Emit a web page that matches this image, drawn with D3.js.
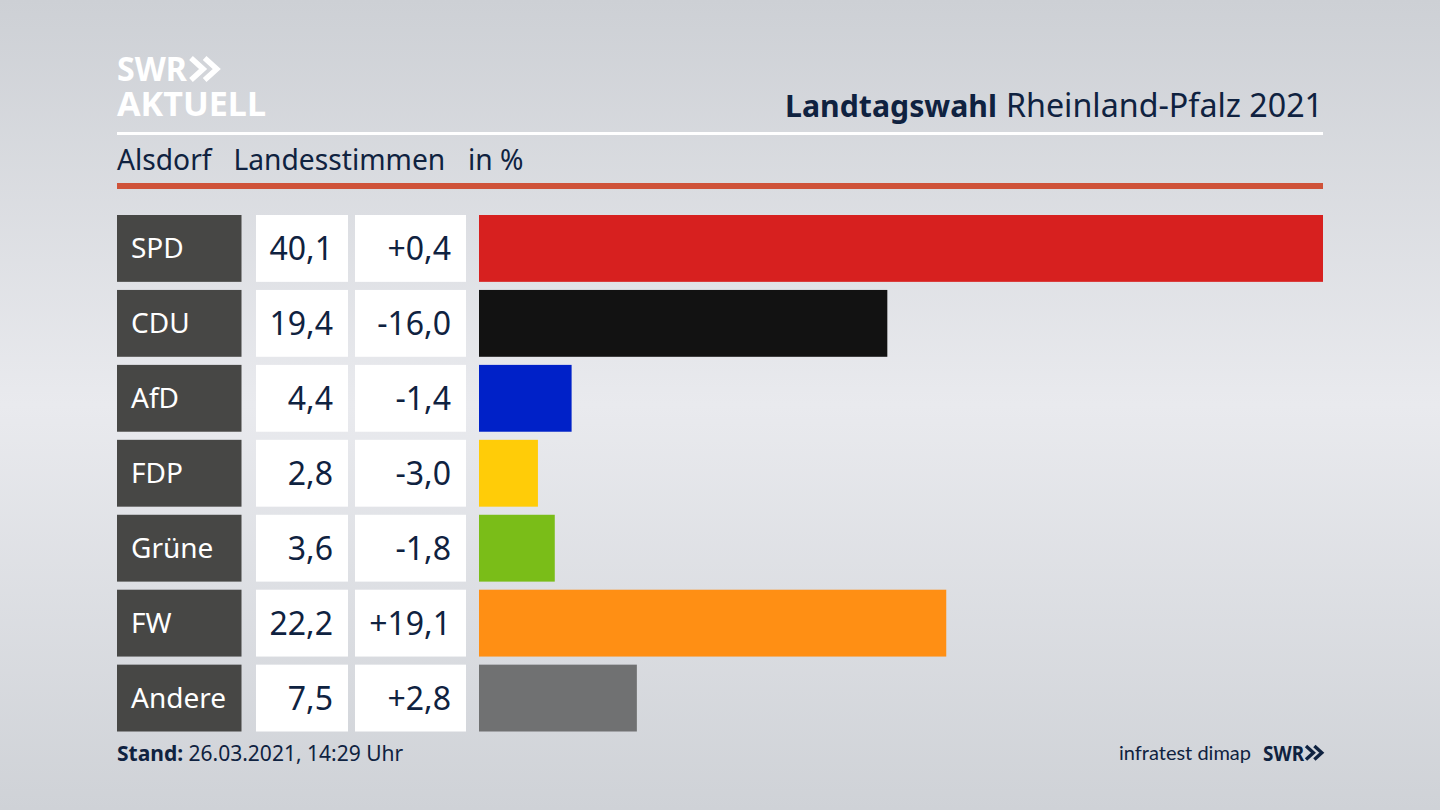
<!DOCTYPE html>
<html>
<head>
<meta charset="utf-8">
<script src="https://cdn.jsdelivr.net/npm/d3@7"></script>
<style>
html, body { margin: 0; padding: 0; background: #dcdee3; }
svg { display: block; }
text { font-family: "Noto Sans", sans-serif; }
</style>
</head>
<body>
<svg id="chart" width="1440" height="810"></svg>
<script>
const parties = ["SPD", "CDU", "AfD", "FDP", "Grüne", "FW", "Andere"];
const shares = [40.1, 19.4, 4.4, 2.8, 3.6, 22.2, 7.5];
const changes = [0.4, -16.0, -1.4, -3.0, -1.8, 19.1, 2.8];
const colors = ["#d7201f", "#121212", "#0021c8", "#ffcc08", "#7abd18", "#ff8f14", "#707172"];

const navy = "#0f2240";
const svg = d3.select("#chart");

const defs = svg.append("defs");
const bg = defs.append("linearGradient").attr("id", "bg")
    .attr("x1", 0).attr("y1", 0).attr("x2", 0).attr("y2", 1);
bg.append("stop").attr("offset", "0%").attr("stop-color", "#cdd0d5");
bg.append("stop").attr("offset", "50%").attr("stop-color", "#e9eaee");
bg.append("stop").attr("offset", "100%").attr("stop-color", "#cfd2d7");
svg.append("rect").attr("width", 1440).attr("height", 810).attr("fill", "url(#bg)");

const de = d3.formatLocale({ decimal: ",", thousands: ".", grouping: [3], currency: ["", " €"], minus: "-" });
const fmtShare = de.format(".1f");
const fmtChange = de.format("+.1f");

const x = d3.scaleLinear().domain([0, 40.1]).range([479, 1323]);
const y = d3.scaleBand().domain(parties).range([215, 731.5]).paddingInner(0.108);

const rows = svg.selectAll("g.row")
    .data(parties)
    .join("g")
    .attr("class", "row")
    .attr("transform", d => `translate(0,${y(d)})`);

rows.append("rect").attr("x", 117).attr("width", 124.5).attr("height", y.bandwidth()).attr("fill", "#474745");
rows.append("rect").attr("x", 256).attr("width", 92).attr("height", y.bandwidth()).attr("fill", "#fff");
rows.append("rect").attr("x", 355).attr("width", 111).attr("height", y.bandwidth()).attr("fill", "#fff");
rows.append("rect")
    .attr("x", x(0))
    .attr("width", (d, i) => x(shares[i]) - x(0))
    .attr("height", y.bandwidth())
    .attr("fill", (d, i) => colors[i]);

rows.append("text")
    .attr("x", 131).attr("y", y.bandwidth() / 2 + 10)
    .attr("font-size", 28).attr("fill", "#fff")
    .text(d => d);
rows.append("text")
    .attr("x", 333).attr("y", y.bandwidth() / 2 + 12)
    .attr("text-anchor", "end").attr("font-size", 32).attr("fill", navy)
    .text((d, i) => fmtShare(shares[i]));
rows.append("text")
    .attr("x", 451).attr("y", y.bandwidth() / 2 + 12)
    .attr("text-anchor", "end").attr("font-size", 32).attr("fill", navy)
    .text((d, i) => fmtChange(changes[i]));

// header
svg.append("rect").attr("x", 117).attr("y", 132).attr("width", 1206).attr("height", 3).attr("fill", "#fff");
svg.append("rect").attr("x", 117).attr("y", 183).attr("width", 1206).attr("height", 6).attr("fill", "#cf5239");

svg.append("text").attr("x", 785).attr("y", 117)
    .attr("font-size", 30.5).attr("font-weight", 700).attr("fill", navy)
    .attr("textLength", 212).attr("lengthAdjust", "spacingAndGlyphs")
    .text("Landtagswahl");
svg.append("text").attr("x", 1006).attr("y", 117)
    .attr("font-size", 32).attr("fill", navy)
    .attr("textLength", 317).attr("lengthAdjust", "spacingAndGlyphs")
    .text("Rheinland-Pfalz 2021");

const sub = svg.append("g").attr("font-size", 28.2).attr("fill", navy);
sub.append("text").attr("x", 117).attr("y", 170).text("Alsdorf");
sub.append("text").attr("x", 233.5).attr("y", 170).text("Landesstimmen");
sub.append("text").attr("x", 468).attr("y", 170).text("in %");

// logo top left
const chevrons = (g, px, py, s, col, w) => {
    [0, 0.62].forEach(o => {
        g.append("path")
            .attr("d", `M${px + o * s},${py} l${s * 0.55},${s * 0.5} l${-s * 0.55},${s * 0.5}`)
            .attr("fill", "none").attr("stroke", col).attr("stroke-width", w);
    });
};
const logo = svg.append("g").attr("fill", "#fff").attr("font-weight", 700);
const logoText = logo.append("text").attr("y", 81).attr("font-size", 33.5);
logoText.append("tspan").attr("x", 117).attr("textLength", 70).attr("lengthAdjust", "spacingAndGlyphs").text("SWR");
logoText.append("tspan").attr("x", 117).attr("dy", 35).attr("textLength", 149).attr("lengthAdjust", "spacingAndGlyphs").text("AKTUELL");
chevrons(logo, 191, 58, 22, "#fff", 5.5);

// footer
const foot = svg.append("text").attr("x", 117).attr("y", 761).attr("font-size", 21).attr("fill", navy);
foot.append("tspan").attr("font-weight", 700).text("Stand:");
foot.append("tspan").text(" 26.03.2021, 14:29 Uhr");

svg.append("text").attr("x", 1251).attr("y", 760)
    .attr("text-anchor", "end").attr("font-size", 20).attr("fill", navy)
    .style("font-family", "Lato, sans-serif")
    .text("infratest dimap");
svg.append("text").attr("x", 1263).attr("y", 761)
    .attr("font-size", 21).attr("font-weight", 700).attr("fill", navy)
    .attr("textLength", 41).attr("lengthAdjust", "spacingAndGlyphs").text("SWR");
chevrons(svg.append("g"), 1306, 746, 13.5, navy, 3.4);
</script>
</body>
</html>
